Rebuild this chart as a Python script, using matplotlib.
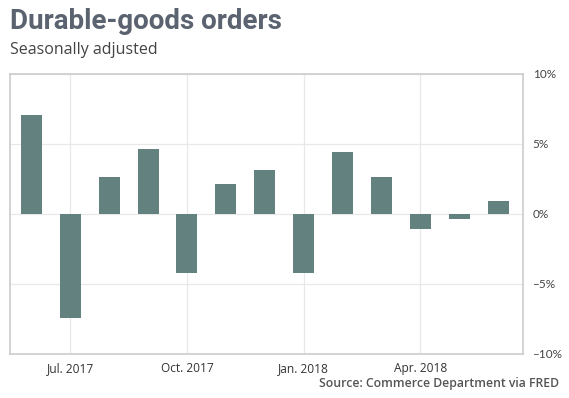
import matplotlib
matplotlib.use('Agg')
import matplotlib.pyplot as plt

# Monthly change in durable-goods orders, Jun 2017 - Jun 2018 (%)
months = ['Jun. 2017', 'Jul. 2017', 'Aug. 2017', 'Sep. 2017', 'Oct. 2017',
          'Nov. 2017', 'Dec. 2017', 'Jan. 2018', 'Feb. 2018', 'Mar. 2018',
          'Apr. 2018', 'May 2018', 'Jun. 2018']
changes = [7.1, -7.4, 2.65, 4.65, -4.2, 2.15, 3.15, -4.25, 4.45, 2.65, -1.1, -0.35, 0.95]
tick_labels = ['Jul. 2017', 'Oct. 2017', 'Jan. 2018', 'Apr. 2018']
y_ticks = [-10, -5, 0, 5, 10]

fig = plt.figure(figsize=(5.69, 3.98), dpi=100)
ax = fig.add_axes([10 / 569, 1 - 354 / 398, 513 / 569, 280 / 398])

x = list(range(len(months)))
ax.bar(x, changes, width=0.54, color='#63817f', zorder=3)

ax.set_xlim(-0.55, 12.64)
ax.set_ylim(-10, 10)

tick_pos = [months.index(t) for t in tick_labels]
ax.set_xticks(tick_pos)
ax.set_xticklabels(tick_labels, fontsize=8.6, color='#333333', family='Open Sans')
ax.set_yticks(y_ticks)
ax.set_yticklabels(['\u2013' + f'{abs(v)}%' if v < 0 else f'{v}%' for v in y_ticks],
                   fontsize=8.5, color='#444444', family='Lato')
ax.yaxis.tick_right()
ax.tick_params(axis='both', length=0, pad=6)
ax.tick_params(axis='y', pad=7)

ax.grid(True, color='#e8e8e8', linewidth=0.9, zorder=0)
for s in ax.spines.values():
    s.set_color('#cccccc')
    s.set_linewidth(1.2)

fig.text(10 / 569, 1 - 8 / 398, 'Durable-goods orders', fontsize=20, fontweight='bold',
         color='#5b6370', family='Roboto', va='top', ha='left')
fig.text(10 / 569, 1 - 42 / 398, 'Seasonally adjusted', fontsize=11.5,
         color='#444444', family='Open Sans', va='top', ha='left')
fig.text(559 / 569, 1 - 383 / 398, 'Source: Commerce Department via FRED', fontsize=8.8,
         fontweight='semibold', color='#555555', family='Open Sans', va='center', ha='right')

fig.savefig('out.png', dpi=100)
